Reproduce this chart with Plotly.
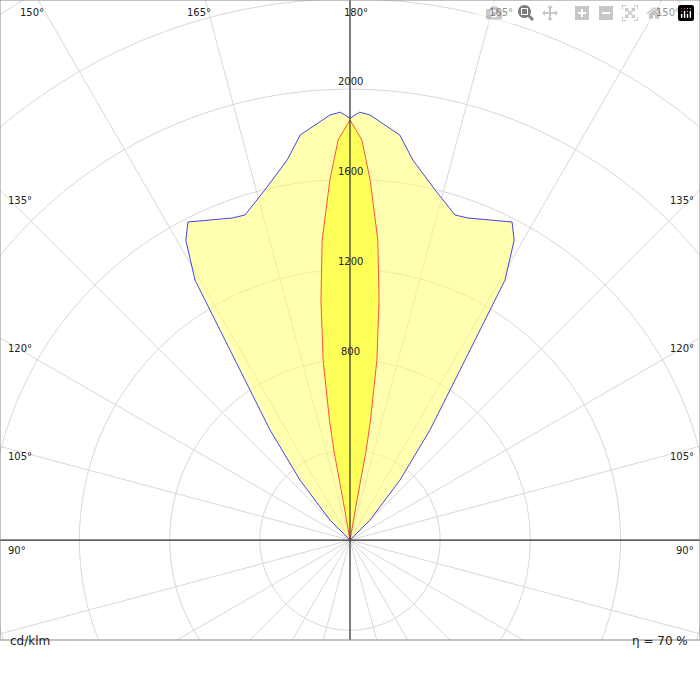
import numpy as np
import plotly.graph_objects as go

# gamma angle (deg from nadir) and luminous intensity (cd/klm), one half, mirrored
c0_gamma = [180, 178.3, 176.8, 174.7, 173.1, 171.5, 170.3, 169.8, 170.1, 170]
c0_cd = [1863, 1775, 1599, 1336, 1072, 807, 540, 406, 180, 0]

c90_gamma = [180, 178.7, 177.3, 173, 170.6, 166.3, 162.1, 159.9, 153, 151.3,
             149.2, 148.5, 147.1, 144, 140.2, 135, 135]
c90_cd = [1871, 1898, 1887, 1810, 1708, 1597, 1515, 1521, 1583, 1516,
          1342, 1145, 898, 603, 346, 125, 0]

ring_values = [400, 800, 1200, 1600, 2000, 2400, 2800, 3200]
ring_labels = [800, 1200, 1600, 2000]
spoke_angles = list(range(0, 360, 15))
FONT = "DejaVu Sans"


def closed_xy(gamma, cd):
    g = np.radians(np.array(gamma))
    r = np.array(cd)
    x = np.concatenate([-r * np.sin(g), (r * np.sin(g))[::-1]])
    y = np.concatenate([-r * np.cos(g), (-r * np.cos(g))[::-1]])
    return x, y


fig = go.Figure()
bx, by = closed_xy(c90_gamma, c90_cd)
rx, ry = closed_xy(c0_gamma, c0_cd)
fig.add_trace(go.Scatter(x=bx, y=by, mode="lines", fill="toself",
                         fillcolor="rgba(255,255,110,0.55)",
                         line=dict(color="#4444ee", width=1), showlegend=False))
fig.add_trace(go.Scatter(x=rx, y=ry, mode="lines", fill="toself",
                         fillcolor="rgba(255,255,60,0.75)",
                         line=dict(color="#ff5040", width=1), showlegend=False))

shapes = []
for r in ring_values:
    shapes.append(dict(type="circle", xref="x", yref="y", x0=-r, y0=-r, x1=r, y1=r,
                       line=dict(color="#d8d8d8", width=1), layer="below"))
for a in spoke_angles:
    t = np.radians(a)
    shapes.append(dict(type="line", xref="x", yref="y", x0=0, y0=0,
                       x1=5000 * np.sin(t), y1=-5000 * np.cos(t),
                       line=dict(color="#d8d8d8", width=1), layer="below"))
shapes.append(dict(type="line", xref="x", yref="y", x0=-1600, x1=1600, y0=0, y1=0,
                   line=dict(color="#333", width=1.2)))
shapes.append(dict(type="line", xref="x", yref="y", x0=0, x1=0, y0=-500, y1=2500,
                   line=dict(color="#333", width=1.2)))
shapes.append(dict(type="rect", xref="paper", yref="paper", x0=0, x1=1, y0=0, y1=1,
                   line=dict(color="#888", width=1)))
# legend swatches
for yy, col in [(-0.206, "#ff5040"), (-0.228, "#4444ee")]:
    shapes.append(dict(type="line", xref="paper", yref="paper", x0=0.004, x1=0.04,
                       y0=yy, y1=yy, line=dict(color=col, width=1)))

XMAX, YTOP, YBOT = 1552, 2395, -443
ann = []
for v in ring_labels:
    ann.append(dict(x=0, y=v, text=str(v), showarrow=False, yshift=8,
                    font=dict(size=10, color="#222")))
for a in [150, 165, 180]:
    xo = YTOP * np.tan(np.radians(180 - a))
    for s in ([1] if a == 180 else [-1, 1]):
        ann.append(dict(x=s * xo, y=YTOP, text=f"{a}°", showarrow=False, yshift=-12,
                        xshift=s * 6 if a != 180 else 6, font=dict(size=10, color="#222")))
for a in [90, 105, 120, 135]:
    yo = XMAX * np.tan(np.radians(a - 90))
    ann.append(dict(x=-XMAX, y=yo, text=f"{a}°", showarrow=False, xanchor="left",
                    yshift=-10, xshift=6, font=dict(size=10, color="#222")))
    ann.append(dict(x=XMAX, y=yo, text=f"{a}°", showarrow=False, xanchor="right",
                    yshift=-10, xshift=-4, font=dict(size=10, color="#222")))
ann += [
    dict(xref="paper", yref="paper", x=0.012, y=-0.016, text="cd/klm", showarrow=False,
         xanchor="left", font=dict(size=12, color="#222")),
    dict(xref="paper", yref="paper", x=0.985, y=-0.016, text="η = 70 %", showarrow=False,
         xanchor="right", font=dict(size=12, color="#222")),
    dict(xref="paper", yref="paper", x=0.05, y=-0.206, text="C0/C180", showarrow=False,
         xanchor="left", font=dict(size=10, color="#222")),
    dict(xref="paper", yref="paper", x=0.05, y=-0.228, text="C90/C270", showarrow=False,
         xanchor="left", font=dict(size=10, color="#222")),
]

fig.update_layout(
    width=700, height=700, margin=dict(l=0, r=0, t=0, b=60),
    plot_bgcolor="white", paper_bgcolor="white", font=dict(family=FONT),
    shapes=shapes, annotations=ann, showlegend=False,
    xaxis=dict(range=[-XMAX, XMAX], visible=False, showgrid=False, zeroline=False),
    yaxis=dict(range=[YBOT, YTOP], visible=False, showgrid=False, zeroline=False),
)
fig.write_html("out.html",
               post_script="document.body.style.margin='0';document.body.style.overflow='hidden';")
